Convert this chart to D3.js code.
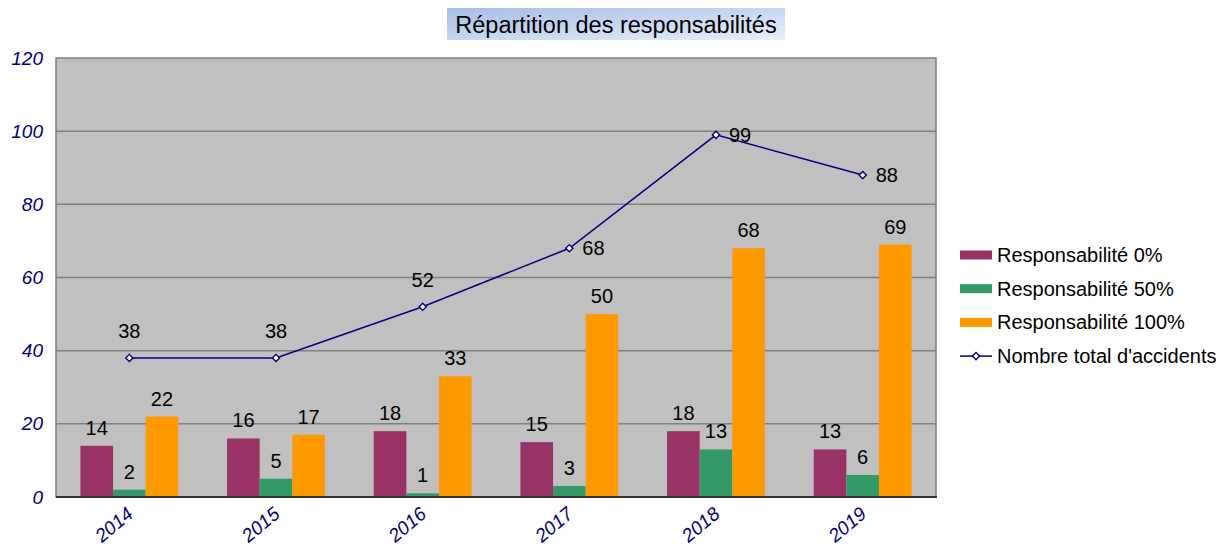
<!DOCTYPE html>
<html>
<head>
<meta charset="utf-8">
<script src="https://cdn.jsdelivr.net/npm/d3@7"></script>
<style>
  body { margin: 0; background: #fff; }
  svg { font-family: Arial, "Liberation Sans", sans-serif; }
</style>
</head>
<body>
<script>
// chart data
const years = ["2014", "2015", "2016", "2017", "2018", "2019"];
const resp0 = [14, 16, 18, 15, 18, 13];
const resp50 = [2, 5, 1, 3, 13, 6];
const resp100 = [22, 17, 33, 50, 68, 69];
const totalAccidents = [38, 38, 52, 68, 99, 88];
const yTicks = [0, 20, 40, 60, 80, 100, 120];

const seriesNames = ["Responsabilité 0%", "Responsabilité 50%", "Responsabilité 100%"];
const seriesColors = ["#993366", "#339966", "#FF9900"];
const lineName = "Nombre total d'accidents";
const lineColor = "#000080";

const width = 1227, height = 550;
const plot = { left: 56, top: 58, right: 936, bottom: 497 };
const labelSize = "20px";

const svg = d3.select("body").append("svg")
  .attr("width", width)
  .attr("height", height);

// title with gradient background
const defs = svg.append("defs");
const grad = defs.append("linearGradient")
  .attr("id", "titleGrad")
  .attr("x1", "0").attr("y1", "0").attr("x2", "1").attr("y2", "1");
grad.append("stop").attr("offset", "0%").attr("stop-color", "#a6bde6");
grad.append("stop").attr("offset", "100%").attr("stop-color", "#e9eff9");

svg.append("rect")
  .attr("x", 447).attr("y", 8)
  .attr("width", 338).attr("height", 32)
  .attr("fill", "url(#titleGrad)");

svg.append("text")
  .attr("x", 616).attr("y", 33)
  .attr("text-anchor", "middle")
  .attr("font-size", "23.5px")
  .attr("fill", "#000")
  .text("Répartition des responsabilités");

// scales
const x = d3.scaleBand()
  .domain(years)
  .range([plot.left, plot.right]);

const groupWidth = x.bandwidth() * 0.667;
const xInner = d3.scaleBand()
  .domain(d3.range(3))
  .range([0, groupWidth]);

const y = d3.scaleLinear()
  .domain([0, 120])
  .range([plot.bottom, plot.top]);

// plot background
svg.append("rect")
  .attr("x", plot.left).attr("y", plot.top)
  .attr("width", plot.right - plot.left)
  .attr("height", plot.bottom - plot.top)
  .attr("fill", "#C0C0C0")
  .attr("stroke", "#808080")
  .attr("stroke-width", 1.5);

// gridlines
svg.append("g")
  .selectAll("line")
  .data(yTicks.filter(t => t > 0 && t < 120))
  .join("line")
  .attr("x1", plot.left).attr("x2", plot.right)
  .attr("y1", d => y(d)).attr("y2", d => y(d))
  .attr("stroke", "#808080")
  .attr("stroke-width", 1.5);

// y axis labels
const yAxis = svg.append("g")
  .attr("transform", `translate(${plot.left},0)`)
  .call(d3.axisLeft(y).tickValues(yTicks).tickSize(0).tickPadding(13));
yAxis.select(".domain").remove();
yAxis.selectAll("text")
  .attr("font-size", "19px")
  .attr("font-style", "italic")
  .attr("font-family", "Arial, 'Liberation Sans', sans-serif")
  .attr("fill", lineColor);

// bars
const barData = [resp0, resp50, resp100];
const groups = svg.append("g")
  .selectAll("g")
  .data(years)
  .join("g")
  .attr("transform", d => `translate(${x(d) + (x.bandwidth() - groupWidth) / 2},0)`);

groups.each(function (yr, i) {
  const g = d3.select(this);
  barData.forEach((vals, s) => {
    g.append("rect")
      .attr("x", xInner(s))
      .attr("y", y(vals[i]))
      .attr("width", xInner.bandwidth())
      .attr("height", y(0) - y(vals[i]))
      .attr("fill", seriesColors[s]);
    g.append("text")
      .attr("x", xInner(s) + xInner.bandwidth() / 2)
      .attr("y", y(vals[i]) - 11)
      .attr("text-anchor", "middle")
      .attr("font-size", labelSize)
      .attr("fill", "#000")
      .text(vals[i]);
  });
});

// x axis baseline
svg.append("line")
  .attr("x1", plot.left).attr("x2", plot.right + 1)
  .attr("y1", plot.bottom).attr("y2", plot.bottom)
  .attr("stroke", "#333")
  .attr("stroke-width", 2);

// x labels
svg.append("g")
  .selectAll("text")
  .data(years)
  .join("text")
  .attr("transform", d => `translate(${x(d) + x.bandwidth() / 2 + 5},${plot.bottom + 19}) rotate(-40)`)
  .attr("text-anchor", "end")
  .attr("font-size", "19px")
  .attr("font-style", "italic")
  .attr("fill", lineColor)
  .text(d => d);

// total line
const cx = (d, i) => x(years[i]) + x.bandwidth() / 2;
const line = d3.line()
  .x((d, i) => cx(d, i))
  .y(d => y(d));

svg.append("path")
  .datum(totalAccidents)
  .attr("d", line)
  .attr("fill", "none")
  .attr("stroke", lineColor)
  .attr("stroke-width", 1.5);

const diamond = d3.symbol().type(d3.symbolSquare).size(26);
svg.append("g")
  .selectAll("path")
  .data(totalAccidents)
  .join("path")
  .attr("d", diamond)
  .attr("transform", (d, i) => `translate(${cx(d, i)},${y(d)}) rotate(45)`)
  .attr("fill", "#fff")
  .attr("stroke", lineColor)
  .attr("stroke-width", 1.4);

// line labels: above for first points, right side for last ones
const lineLabelPos = ["above", "above", "above", "right", "right", "right"];
svg.append("g")
  .selectAll("text")
  .data(totalAccidents)
  .join("text")
  .attr("x", (d, i) => lineLabelPos[i] === "above" ? cx(d, i) : cx(d, i) + 13)
  .attr("y", (d, i) => lineLabelPos[i] === "above" ? y(d) - 20 : y(d) + 7)
  .attr("text-anchor", (d, i) => lineLabelPos[i] === "above" ? "middle" : "start")
  .attr("font-size", labelSize)
  .attr("fill", "#000")
  .text(d => d);

// legend
const legend = svg.append("g").attr("transform", "translate(960,255)");
seriesNames.forEach((name, i) => {
  const row = legend.append("g").attr("transform", `translate(0,${i * 33.7})`);
  row.append("rect")
    .attr("x", 0).attr("y", -4.5)
    .attr("width", 32).attr("height", 9)
    .attr("fill", seriesColors[i]);
  row.append("text")
    .attr("x", 37).attr("y", 7)
    .attr("font-size", labelSize)
    .attr("fill", "#000")
    .text(name);
});
const lineRow = legend.append("g").attr("transform", `translate(0,${3 * 33.7})`);
lineRow.append("line")
  .attr("x1", 0).attr("x2", 32)
  .attr("stroke", lineColor).attr("stroke-width", 1.5);
lineRow.append("path")
  .attr("d", diamond)
  .attr("transform", "translate(16,0) rotate(45)")
  .attr("fill", "#fff")
  .attr("stroke", lineColor)
  .attr("stroke-width", 1.4);
lineRow.append("text")
  .attr("x", 37).attr("y", 7)
  .attr("font-size", labelSize)
  .attr("fill", "#000")
  .text(lineName);
</script>
</body>
</html>
